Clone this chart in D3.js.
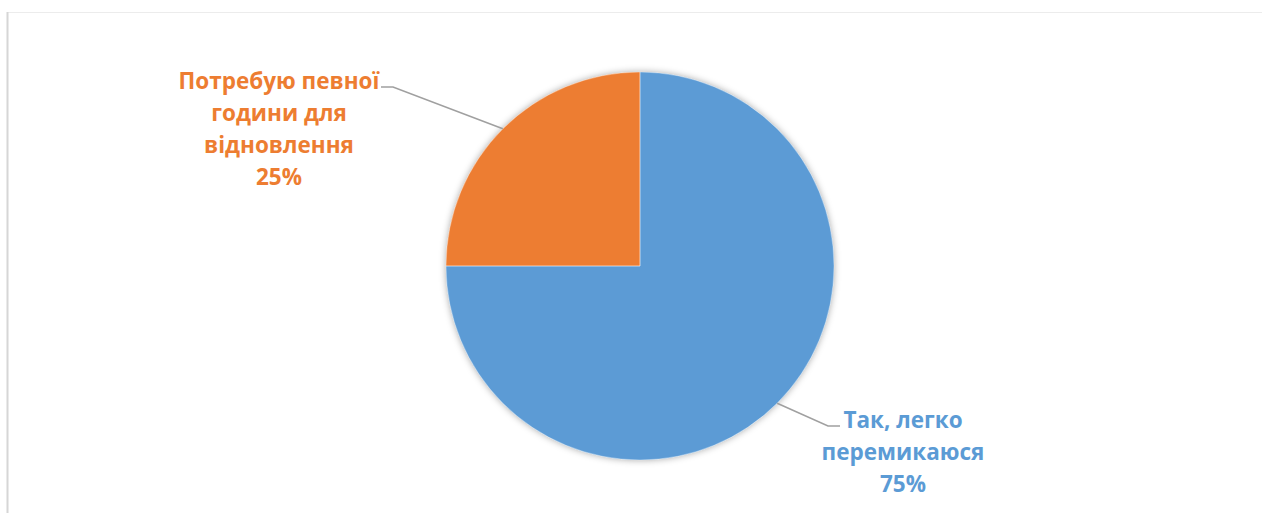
<!DOCTYPE html>
<html>
<head>
<meta charset="utf-8">
<script src="https://cdn.jsdelivr.net/npm/d3@7"></script>
<style>
  html, body { margin: 0; padding: 0; background: #fff; }
  svg { display: block; }
  .lbl { font-family: "Open Sans", "Noto Sans", sans-serif; font-weight: 700; }
</style>
</head>
<body>
<svg id="chart" width="1263" height="513"></svg>
<script>
// Answers to the question and their shares, %
const categories = ["Так, легко перемикаюся", "Потребую певної години для відновлення"];
const values = [75, 25];
const labelLines = [["Так, легко", "перемикаюся"], ["Потребую певної", "години для", "відновлення"]];
const colors = ["#5B9BD5", "#ED7D31"];

const W = 1263, H = 513;
const cx = 640, cy = 266, R = 194;

const svg = d3.select("#chart");

// frame of the chart area
svg.append("line").attr("x1", 7).attr("x2", 1262).attr("y1", 12.5).attr("y2", 12.5)
  .attr("stroke", "#ececec").attr("stroke-width", 1);
svg.append("line").attr("x1", 7.5).attr("x2", 7.5).attr("y1", 12).attr("y2", H)
  .attr("stroke", "#d6d6d6").attr("stroke-width", 2);

// soft glow under the pie
const defs = svg.append("defs");
const f = defs.append("filter").attr("id", "glow")
  .attr("x", "-10%").attr("y", "-10%").attr("width", "120%").attr("height", "120%");
f.append("feDropShadow").attr("dx", 0).attr("dy", 0).attr("stdDeviation", 3.5)
  .attr("flood-color", "#000").attr("flood-opacity", 0.35);

const pie = d3.pie().sort(null).value(d => d);
const arcs = pie(values);
const arc = d3.arc().innerRadius(0).outerRadius(R);

const g = svg.append("g").attr("transform", `translate(${cx},${cy})`);
g.append("g").attr("filter", "url(#glow)")
  .selectAll("path").data(arcs).join("path")
  .attr("d", arc)
  .attr("fill", (d, i) => colors[i]);
g.selectAll("path.sep").data(arcs).join("path")
  .attr("class", "sep")
  .attr("d", arc)
  .attr("fill", "none")
  .attr("stroke", "#fff").attr("stroke-opacity", 0.35).attr("stroke-width", 1);

// leader lines: from the slice edge at its mid-angle to the label
const edgeArc = d3.arc().innerRadius(R).outerRadius(R);
const elbows = [[828 - cx, 426 - cy], [393 - cx, 87 - cy]];
const ends = [[840 - cx, 426 - cy], [381 - cx, 87 - cy]];
arcs.forEach((d, i) => {
  const p0 = edgeArc.centroid(d);
  g.append("polyline")
    .attr("points", [p0, elbows[i], ends[i]].map(p => p.join(",")).join(" "))
    .attr("fill", "none").attr("stroke", "#a0a0a0").attr("stroke-width", 1.6);
});

// data labels
const labelPos = [{ x: 903, y: 428 }, { x: 279, y: 89 }];
const lineGap = 32;
const fmt = d => d + "%";
arcs.forEach((d, i) => {
  const t = svg.append("text").attr("class", "lbl")
    .attr("text-anchor", "middle")
    .attr("font-size", 22.5)
    .attr("fill", colors[i]);
  const lines = labelLines[i].concat([fmt(values[i])]);
  lines.forEach((s, k) => {
    t.append("tspan").attr("x", labelPos[i].x).attr("y", labelPos[i].y + k * lineGap).text(s);
  });
});
</script>
</body>
</html>
